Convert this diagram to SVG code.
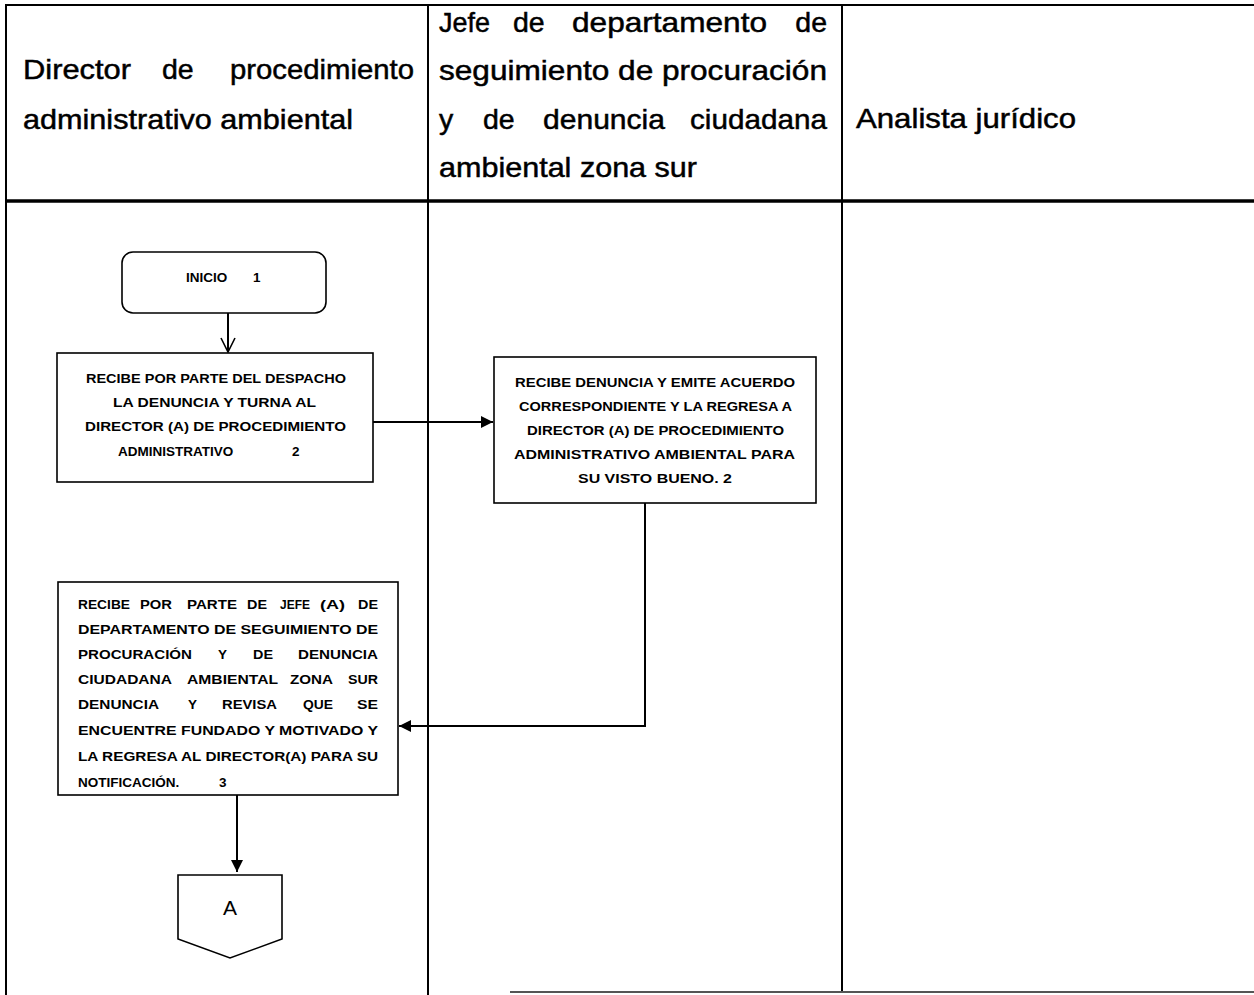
<svg xmlns="http://www.w3.org/2000/svg" width="1254" height="995" viewBox="0 0 1254 995">
<style>
.bg{fill:#fff}
.lane{stroke:#000;stroke-width:2;fill:none}
.hdr{font-family:"Liberation Sans",Arial,sans-serif;font-size:28.5px;fill:#000;stroke:#000;stroke-width:0.5}
.box{fill:#fff;stroke:#000;stroke-width:1.6}
.t{font-family:"Liberation Sans",Arial,sans-serif;font-size:13.5px;font-weight:bold;fill:#000}
.te{text-anchor:end}
.con{stroke:#000;stroke-width:2;fill:none}
</style>
<defs>
<marker id="ah" viewBox="0 0 10 10" refX="10" refY="5" markerWidth="12" markerHeight="12" markerUnits="userSpaceOnUse" orient="auto">
<path d="M0,0 L10,5 L0,10 Z" fill="#000"/>
</marker>
<marker id="av" viewBox="0 0 16 16" refX="15" refY="8" markerWidth="16" markerHeight="16" markerUnits="userSpaceOnUse" orient="auto">
<path d="M1,1 L15,8 L1,15" fill="none" stroke="#000" stroke-width="1.6"/>
</marker>
</defs>
<rect class="bg" x="0" y="0" width="1254" height="995"/>

<g id="lanes">
<line class="lane" x1="6" y1="5" x2="1254" y2="5"/>
<line class="lane" x1="6" y1="4" x2="6" y2="995"/>
<line class="lane" x1="428" y1="4" x2="428" y2="995"/>
<line class="lane" x1="842" y1="4" x2="842" y2="992"/>
<line x1="6" y1="201" x2="1254" y2="201" stroke="#000" stroke-width="3.5"/>
<line x1="510" y1="992" x2="1254" y2="992" stroke="#555" stroke-width="2"/>
</g>

<g id="header">
<text class="hdr" x="23" y="79" textLength="108" lengthAdjust="spacingAndGlyphs">Director</text>
<text class="hdr" x="162" y="79">de</text>
<text class="hdr" x="230" y="79" textLength="184" lengthAdjust="spacingAndGlyphs">procedimiento</text>
<text class="hdr" x="23" y="129" textLength="330" lengthAdjust="spacingAndGlyphs">administrativo ambiental</text>

<text class="hdr" x="439" y="32" textLength="51" lengthAdjust="spacingAndGlyphs">Jefe</text>
<text class="hdr" x="513" y="32">de</text>
<text class="hdr" x="572" y="32" textLength="195" lengthAdjust="spacingAndGlyphs">departamento</text>
<text class="hdr te" x="827" y="32">de</text>
<text class="hdr" x="439" y="80" textLength="388" lengthAdjust="spacingAndGlyphs">seguimiento de procuración</text>
<text class="hdr" x="439" y="129">y</text>
<text class="hdr" x="483" y="129">de</text>
<text class="hdr" x="543" y="129" textLength="122" lengthAdjust="spacingAndGlyphs">denuncia</text>
<text class="hdr" x="690" y="129" textLength="137" lengthAdjust="spacingAndGlyphs">ciudadana</text>
<text class="hdr" x="439" y="177" textLength="258" lengthAdjust="spacingAndGlyphs">ambiental zona sur</text>

<text class="hdr" x="856" y="128" textLength="220" lengthAdjust="spacingAndGlyphs">Analista jurídico</text>
</g>

<g id="connectors">
<line class="con" x1="228" y1="313" x2="228" y2="352" marker-end="url(#av)"/>
<line class="con" x1="373" y1="422" x2="493" y2="422" marker-end="url(#ah)"/>
<polyline class="con" points="645,503 645,726 399,726" marker-end="url(#ah)"/>
<line class="con" x1="237" y1="795" x2="237" y2="872" marker-end="url(#ah)"/>
</g>

<g id="n1">
<rect class="box" x="122" y="252" width="204" height="61" rx="11"/>
<text class="t" x="186" y="282">INICIO <tspan x="253">1</tspan></text>
</g>

<g id="n2">
<rect class="box" x="57" y="353" width="316" height="129"/>
<text class="t" x="86" y="383" textLength="260" lengthAdjust="spacingAndGlyphs">RECIBE POR PARTE DEL DESPACHO</text>
<text class="t" x="113" y="407" textLength="203" lengthAdjust="spacingAndGlyphs">LA DENUNCIA Y TURNA AL</text>
<text class="t" x="85" y="431" textLength="261" lengthAdjust="spacingAndGlyphs">DIRECTOR (A) DE PROCEDIMIENTO</text>
<text class="t" x="118" y="456">ADMINISTRATIVO <tspan x="292">2</tspan></text>
</g>

<g id="n3">
<rect class="box" x="494" y="357" width="322" height="146"/>
<text class="t" x="515" y="387" textLength="280" lengthAdjust="spacingAndGlyphs">RECIBE DENUNCIA Y EMITE ACUERDO</text>
<text class="t" x="519" y="411" textLength="273" lengthAdjust="spacingAndGlyphs">CORRESPONDIENTE Y LA REGRESA A</text>
<text class="t" x="527" y="435" textLength="257" lengthAdjust="spacingAndGlyphs">DIRECTOR (A) DE PROCEDIMIENTO</text>
<text class="t" x="514" y="459" textLength="281" lengthAdjust="spacingAndGlyphs">ADMINISTRATIVO AMBIENTAL PARA</text>
<text class="t" x="578" y="483" textLength="154" lengthAdjust="spacingAndGlyphs">SU VISTO BUENO. 2</text>
</g>

<g id="n4">
<rect class="box" x="58" y="582" width="340" height="213"/>
<text class="t" x="78" y="609" textLength="52" lengthAdjust="spacingAndGlyphs">RECIBE</text>
<text class="t" x="140" y="609" textLength="32" lengthAdjust="spacingAndGlyphs">POR</text>
<text class="t" x="187" y="609" textLength="50" lengthAdjust="spacingAndGlyphs">PARTE</text>
<text class="t" x="247" y="609" textLength="20" lengthAdjust="spacingAndGlyphs">DE</text>
<text class="t" x="280" y="609" textLength="30" lengthAdjust="spacingAndGlyphs">JEFE</text>
<text class="t" x="320" y="609" textLength="25" lengthAdjust="spacingAndGlyphs">(A)</text>
<text class="t" x="358" y="609" textLength="20" lengthAdjust="spacingAndGlyphs">DE</text>
<text class="t" x="78" y="634" textLength="300" lengthAdjust="spacingAndGlyphs">DEPARTAMENTO DE SEGUIMIENTO DE</text>
<text class="t" x="78" y="659" textLength="114" lengthAdjust="spacingAndGlyphs">PROCURACIÓN</text>
<text class="t" x="218" y="659">Y</text>
<text class="t" x="253" y="659" textLength="20" lengthAdjust="spacingAndGlyphs">DE</text>
<text class="t" x="298" y="659" textLength="80" lengthAdjust="spacingAndGlyphs">DENUNCIA</text>
<text class="t" x="78" y="684" textLength="94" lengthAdjust="spacingAndGlyphs">CIUDADANA</text>
<text class="t" x="187" y="684" textLength="91" lengthAdjust="spacingAndGlyphs">AMBIENTAL</text>
<text class="t" x="290" y="684" textLength="43" lengthAdjust="spacingAndGlyphs">ZONA</text>
<text class="t" x="348" y="684" textLength="30" lengthAdjust="spacingAndGlyphs">SUR</text>
<text class="t" x="78" y="709" textLength="81" lengthAdjust="spacingAndGlyphs">DENUNCIA</text>
<text class="t" x="188" y="709">Y</text>
<text class="t" x="222" y="709" textLength="55" lengthAdjust="spacingAndGlyphs">REVISA</text>
<text class="t" x="303" y="709" textLength="30" lengthAdjust="spacingAndGlyphs">QUE</text>
<text class="t" x="357" y="709" textLength="21" lengthAdjust="spacingAndGlyphs">SE</text>
<text class="t" x="78" y="735" textLength="300" lengthAdjust="spacingAndGlyphs">ENCUENTRE FUNDADO Y MOTIVADO Y</text>
<text class="t" x="78" y="761" textLength="300" lengthAdjust="spacingAndGlyphs">LA REGRESA AL DIRECTOR(A) PARA SU</text>
<text class="t" x="78" y="787">NOTIFICACIÓN. <tspan x="219">3</tspan></text>
</g>

<g id="nA">
<path class="box" d="M178,875 L282,875 L282,939 L230,958 L178,939 Z"/>
<text x="230" y="915" text-anchor="middle" font-family="Liberation Sans,Arial,sans-serif" font-size="21">A</text>
</g>
</svg>
